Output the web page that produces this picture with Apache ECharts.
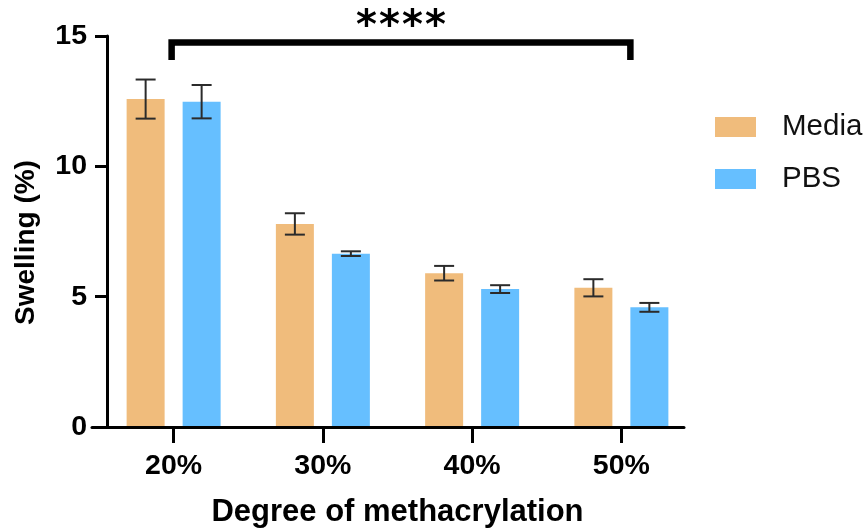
<!DOCTYPE html>
<html>
<head>
<meta charset="utf-8">
<script src="https://cdn.jsdelivr.net/npm/echarts@6/dist/echarts.min.js"></script>
<style>
  html, body { margin: 0; padding: 0; background: #ffffff; }
  #chart { width: 866px; height: 529px; }
</style>
</head>
<body>
<div id="chart"></div>
<script>
// Swelling of the hydrogels by degree of methacrylation (mean and SD)
const categories = ['20%', '30%', '40%', '50%'];
const mediaMean = [12.58, 7.79, 5.90, 5.34];
const mediaErr  = [0.75, 0.41, 0.28, 0.33];
const pbsMean   = [12.48, 6.65, 5.29, 4.59];
const pbsErr    = [0.64, 0.09, 0.15, 0.17];
const yMin = 0, yMax = 15, yStep = 5;

// Significance bracket between the 20% and 50% groups
const sigText = '****';
const sigFrom = 0, sigTo = 3;
const sigLevel = 14.75, sigFoot = 14.08;

const FONT = "Arial, 'Liberation Sans', Helvetica, sans-serif";
const MEDIA_COLOR = '#F0BC7C';
const PBS_COLOR = '#66BFFF';
const BAR_W = 38, BAR_GAP = 18;
const PAIR_OFFSET = (BAR_W + BAR_GAP) / 2;

function errorSeries(name, mean, err, dir) {
  return {
    name: name,
    type: 'custom',
    xAxisIndex: 0, yAxisIndex: 0,
    silent: true,
    z: 4,
    data: mean.map((m, i) => [i, m, err[i]]),
    encode: { x: 0, y: 1 },
    renderItem: function (params, api) {
      const i = api.value(0), m = api.value(1), e = api.value(2);
      const hi = api.coord([i, m + e]);
      const lo = api.coord([i, m - e]);
      const x = hi[0] + dir * PAIR_OFFSET;
      const cap = 10;
      const style = { stroke: '#2b2b2b', lineWidth: 2 };
      return {
        type: 'group',
        children: [
          { type: 'line', shape: { x1: x, y1: hi[1], x2: x, y2: lo[1] }, style: style },
          { type: 'line', shape: { x1: x - cap, y1: hi[1], x2: x + cap, y2: hi[1] }, style: style },
          { type: 'line', shape: { x1: x - cap, y1: lo[1], x2: x + cap, y2: lo[1] }, style: style }
        ]
      };
    }
  };
}

const chart = echarts.init(document.getElementById('chart'), null, { renderer: 'canvas' });

chart.setOption({
  animation: false,
  backgroundColor: '#ffffff',
  textStyle: { fontFamily: FONT },
  grid: [
    { left: 99, right: 170, top: 36, bottom: 102, outerBoundsMode: 'none' },
    { left: 92, right: 182, top: 36, bottom: 102, outerBoundsMode: 'none' }
  ],
  legend: {
    data: ['Media', 'PBS'],
    orient: 'vertical',
    left: 715,
    top: 112,
    padding: 0,
    icon: 'rect',
    itemWidth: 41,
    itemHeight: 20,
    itemGap: 22,
    selectedMode: false,
    textStyle: { fontFamily: FONT, fontSize: 29.5, color: '#111111', lineHeight: 30, padding: [0, 0, 0, 21] }
  },
  xAxis: [
    {
      type: 'category',
      gridIndex: 0,
      data: categories,
      axisLine: { show: false },
      axisTick: { show: true, alignWithLabel: true, length: 16, lineStyle: { color: '#000', width: 3 } },
      axisLabel: { fontFamily: FONT, fontSize: 28.5, fontWeight: 'bold', color: '#000', margin: 25 },
      name: 'Degree of methacrylation',
      nameLocation: 'middle',
      nameGap: 70,
      nameTextStyle: { fontFamily: FONT, fontSize: 31, fontWeight: 'bold', color: '#000' }
    },
    {
      type: 'value',
      gridIndex: 1,
      min: 0, max: 1,
      z: 5,
      axisLine: { show: true, lineStyle: { color: '#000', width: 3 } },
      axisTick: { show: false },
      axisLabel: { show: false },
      splitLine: { show: false }
    }
  ],
  yAxis: [
    {
      type: 'value',
      gridIndex: 0,
      min: yMin, max: yMax, interval: yStep,
      offset: -8,
      axisLine: { show: true, lineStyle: { color: '#000', width: 3 } },
      axisTick: { show: true, length: 12, lineStyle: { color: '#000', width: 3 } },
      axisLabel: { fontFamily: FONT, fontSize: 28.5, fontWeight: 'bold', color: '#000', margin: 20 },
      splitLine: { show: false },
      name: 'Swelling (%)',
      nameLocation: 'middle',
      nameGap: 67,
      nameTextStyle: { fontFamily: FONT, fontSize: 28, fontWeight: 'bold', color: '#000', padding: [0, 22, 0, 0] }
    },
    {
      type: 'value',
      gridIndex: 1,
      min: 0, max: 1,
      show: false
    }
  ],
  series: [
    {
      name: 'Media',
      type: 'bar',
      xAxisIndex: 0, yAxisIndex: 0,
      data: mediaMean,
      barWidth: BAR_W,
      barGap: (BAR_GAP / BAR_W * 100) + '%',
      itemStyle: { color: MEDIA_COLOR },
      silent: true
    },
    {
      name: 'PBS',
      type: 'bar',
      xAxisIndex: 0, yAxisIndex: 0,
      data: pbsMean,
      barWidth: BAR_W,
      itemStyle: { color: PBS_COLOR },
      silent: true
    },
    errorSeries('Media SD', mediaMean, mediaErr, -1),
    errorSeries('PBS SD', pbsMean, pbsErr, 1),
    {
      name: 'Significance',
      type: 'custom',
      xAxisIndex: 0, yAxisIndex: 0,
      silent: true,
      clip: false,
      z: 6,
      data: [[sigFrom, sigTo, sigLevel, sigFoot]],
      encode: { x: [0, 1], y: [2, 3] },
      renderItem: function (params, api) {
        const a = api.coord([api.value(0), api.value(2)]);
        const b = api.coord([api.value(1), api.value(2)]);
        const footY = api.coord([api.value(0), api.value(3)])[1];
        const x1 = a[0] - 2, x2 = b[0] + 9, y = a[1];
        const mid = (x1 + x2) / 2;
        const pitch = 23;
        const stars = sigText.split('').map((s, k) => ({
          type: 'text',
          style: {
            text: s,
            x: mid + (k - (sigText.length - 1) / 2) * pitch,
            y: y - 15,
            align: 'center',
            verticalAlign: 'middle',
            font: "bold 40px 'DejaVu Sans', sans-serif",
            fill: '#000'
          }
        }));
        return {
          type: 'group',
          children: [
            {
              type: 'polyline',
              shape: { points: [[x1, footY], [x1, y], [x2, y], [x2, footY]] },
              style: { stroke: '#000', lineWidth: 6.5, fill: null, lineJoin: 'miter', lineCap: 'butt' }
            }
          ].concat(stars)
        };
      }
    }
  ]
});
</script>
</body>
</html>
